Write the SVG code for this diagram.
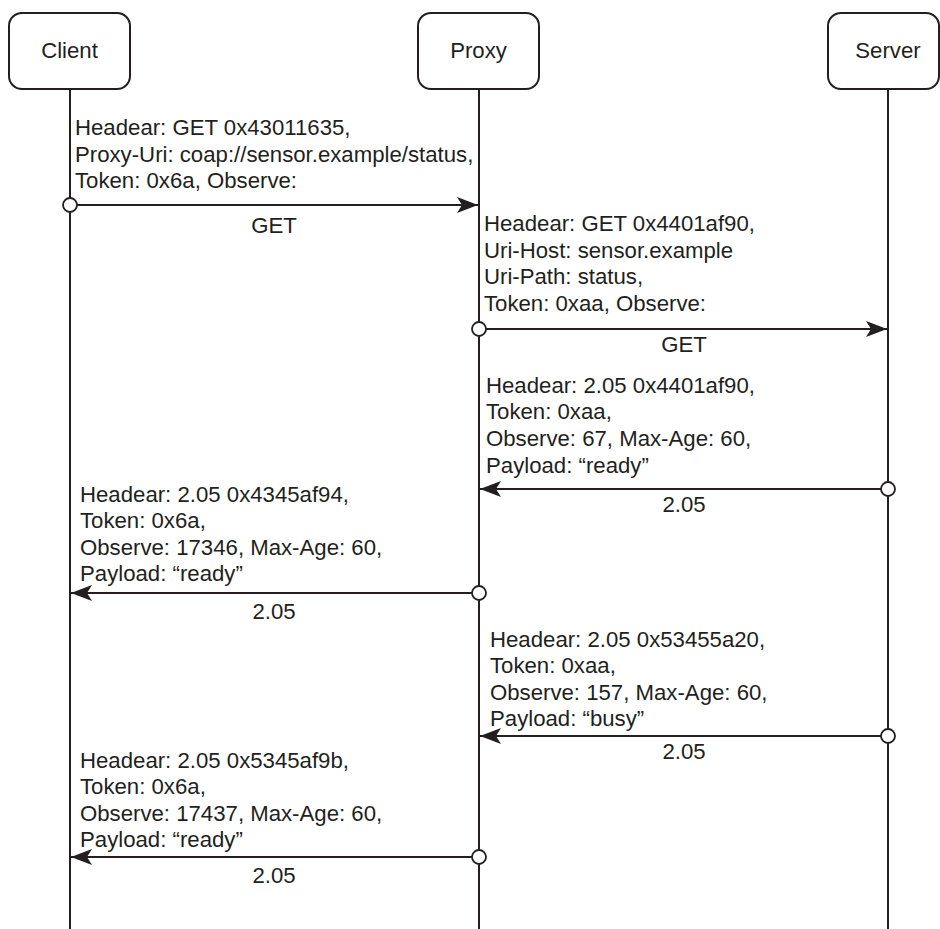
<svg xmlns="http://www.w3.org/2000/svg" width="940" height="929" viewBox="0 0 940 929">
<defs>
<style>
.box{fill:#fff;stroke:#231f20;stroke-width:2}
.life{stroke:#231f20;stroke-width:2;fill:none}
.msg{stroke:#231f20;stroke-width:2;fill:none}
.dot{fill:#fff;stroke:#231f20;stroke-width:1.8}
text{font-family:"Liberation Sans",Arial,Helvetica,sans-serif;font-size:22.2px;fill:#231f20}
.c{text-anchor:middle}
</style>
<marker id="ah" viewBox="0 0 21 16" refX="21" refY="8" markerWidth="21" markerHeight="16" markerUnits="userSpaceOnUse" orient="auto">
<path d="M0,0 L21,8 L0,16 L5,8 Z" fill="#231f20"/>
</marker>
</defs>
<rect width="940" height="929" fill="#fff"/>
<g id="client">
<rect class="box" x="9" y="13" width="121" height="76" rx="13"/>
<text class="c" x="69.5" y="58">Client</text>
<line class="life" x1="70" y1="89" x2="70" y2="929"/>
</g>
<g id="proxy">
<rect class="box" x="418" y="13" width="121" height="76" rx="13"/>
<text class="c" x="478.5" y="58">Proxy</text>
<line class="life" x1="479" y1="89" x2="479" y2="929"/>
</g>
<g id="server">
<rect class="box" x="828" y="13" width="111" height="76" rx="13"/>
<text class="c" x="888" y="58">Server</text>
<line class="life" x1="888" y1="89" x2="888" y2="929"/>
</g>
<g id="connectors">
<line class="msg" x1="70" y1="205" x2="478" y2="205" marker-end="url(#ah)"/>
<circle class="dot" cx="70" cy="205" r="7"/>
<line class="msg" x1="479" y1="329" x2="887" y2="329" marker-end="url(#ah)"/>
<circle class="dot" cx="479" cy="329" r="7"/>
<line class="msg" x1="888" y1="489" x2="480" y2="489" marker-end="url(#ah)"/>
<circle class="dot" cx="888" cy="489" r="7"/>
<line class="msg" x1="479" y1="593" x2="71" y2="593" marker-end="url(#ah)"/>
<circle class="dot" cx="479" cy="593" r="7"/>
<line class="msg" x1="888" y1="736" x2="480" y2="736" marker-end="url(#ah)"/>
<circle class="dot" cx="888" cy="736" r="7"/>
<line class="msg" x1="479" y1="857" x2="71" y2="857" marker-end="url(#ah)"/>
<circle class="dot" cx="479" cy="857" r="7"/>
</g>
<g id="labels">
<text x="75" y="135">Headear: GET 0x43011635,</text>
<text x="75" y="161.5">Proxy-Uri: coap://sensor.example/status,</text>
<text x="75" y="188">Token: 0x6a, Observe:</text>
<text class="c" x="274" y="233">GET</text>

<text x="484" y="231">Headear: GET 0x4401af90,</text>
<text x="484" y="258">Uri-Host: sensor.example</text>
<text x="484" y="284">Uri-Path: status,</text>
<text x="484" y="311">Token: 0xaa, Observe:</text>
<text class="c" x="684" y="352">GET</text>

<text x="486" y="393">Headear: 2.05 0x4401af90,</text>
<text x="486" y="419">Token: 0xaa,</text>
<text x="486" y="446">Observe: 67, Max-Age: 60,</text>
<text x="486" y="473">Payload: “ready”</text>
<text class="c" x="684" y="512">2.05</text>

<text x="80" y="502">Headear: 2.05 0x4345af94,</text>
<text x="80" y="528">Token: 0x6a,</text>
<text x="80" y="555">Observe: 17346, Max-Age: 60,</text>
<text x="80" y="581">Payload: “ready”</text>
<text class="c" x="274" y="619">2.05</text>

<text x="490" y="647">Headear: 2.05 0x53455a20,</text>
<text x="490" y="673">Token: 0xaa,</text>
<text x="490" y="700">Observe: 157, Max-Age: 60,</text>
<text x="490" y="726">Payload: “busy”</text>
<text class="c" x="684" y="759">2.05</text>

<text x="80" y="768">Headear: 2.05 0x5345af9b,</text>
<text x="80" y="794">Token: 0x6a,</text>
<text x="80" y="821">Observe: 17437, Max-Age: 60,</text>
<text x="80" y="847">Payload: “ready”</text>
<text class="c" x="274" y="883">2.05</text>
</g>
</svg>
